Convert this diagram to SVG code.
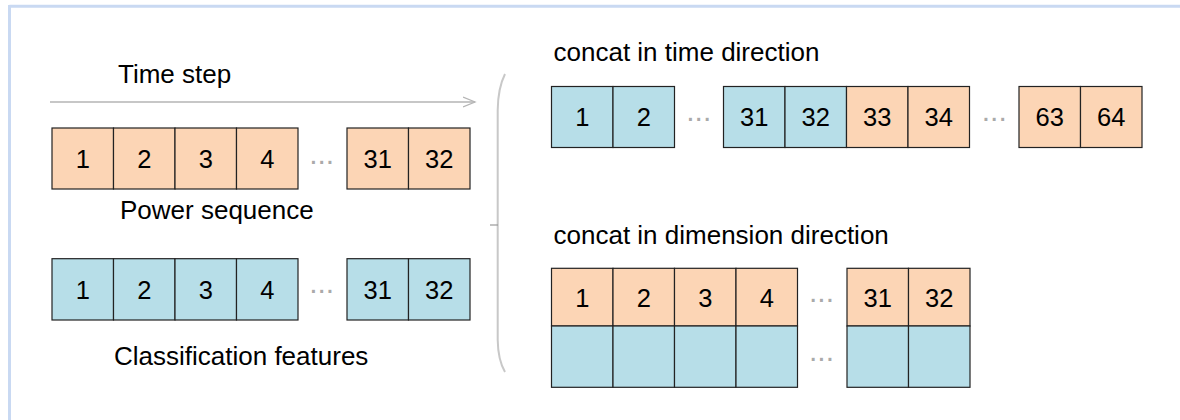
<svg xmlns="http://www.w3.org/2000/svg" width="1180" height="420" viewBox="0 0 1180 420">
<style>
text{font-family:"Liberation Sans",Arial,sans-serif;fill:#000}
.lbl{font-size:26px}
.num{font-size:25.5px;text-anchor:middle}
.dots{font-size:30px;fill:#aaa;text-anchor:middle}
.o{fill:#fcd5b5;stroke:#222;stroke-width:1.2}
.b{fill:#b7dee8;stroke:#222;stroke-width:1.2}
</style>
<defs>
<marker id="arr" markerWidth="14" markerHeight="12" refX="12" refY="6" orient="auto" markerUnits="userSpaceOnUse">
<path d="M0,1 L12,6 L0,11" fill="none" stroke="#b5b5b5" stroke-width="1.3"/>
</marker>
</defs>
<rect width="1180" height="420" fill="#fff"/>
<g id="frame">
<line x1="9.5" y1="6.3" x2="1180" y2="6.3" stroke="#c9d9f2" stroke-width="3"/>
<line x1="9.5" y1="5" x2="9.5" y2="420" stroke="#c9d9f2" stroke-width="3"/>
</g>
<g id="connectors">
<line x1="50" y1="102" x2="475" y2="102" stroke="#b5b5b5" stroke-width="1.3" marker-end="url(#arr)"/>
<path d="M505,74 Q498,88 497.7,110 L497.7,340 Q498,360 505,372" fill="none" stroke="#c8c8c8" stroke-width="2"/>
<line x1="490" y1="225" x2="498" y2="225" stroke="#999" stroke-width="1.2"/>
</g>
<g id="time-step-label"><text class="lbl" x="118" y="83">Time step</text></g>
<g id="power-sequence">
<rect class="o" x="52" y="128" width="61.5" height="61"/>
<rect class="o" x="113.5" y="128" width="61.5" height="61"/>
<rect class="o" x="175" y="128" width="61.5" height="61"/>
<rect class="o" x="236.5" y="128" width="61.5" height="61"/>
<rect class="o" x="347" y="128" width="61.5" height="61"/>
<rect class="o" x="408.5" y="128" width="61.5" height="61"/>
<text class="num" x="82.75" y="167.5">1</text>
<text class="num" x="144.25" y="167.5">2</text>
<text class="num" x="205.75" y="167.5">3</text>
<text class="num" x="267.25" y="167.5">4</text>
<text class="dots" x="321.7" y="163.5">...</text>
<text class="num" x="377.75" y="167.5">31</text>
<text class="num" x="439.25" y="167.5">32</text>
<text class="lbl" x="120" y="219">Power sequence</text>
</g>
<g id="classification-features">
<rect class="b" x="52" y="258.7" width="61.5" height="61.3"/>
<rect class="b" x="113.5" y="258.7" width="61.5" height="61.3"/>
<rect class="b" x="175" y="258.7" width="61.5" height="61.3"/>
<rect class="b" x="236.5" y="258.7" width="61.5" height="61.3"/>
<rect class="b" x="347" y="258.7" width="61.5" height="61.3"/>
<rect class="b" x="408.5" y="258.7" width="61.5" height="61.3"/>
<text class="num" x="82.75" y="298.5">1</text>
<text class="num" x="144.25" y="298.5">2</text>
<text class="num" x="205.75" y="298.5">3</text>
<text class="num" x="267.25" y="298.5">4</text>
<text class="dots" x="321.7" y="292.5">...</text>
<text class="num" x="377.75" y="298.5">31</text>
<text class="num" x="439.25" y="298.5">32</text>
<text class="lbl" x="114" y="365">Classification features</text>
</g>
<g id="concat-time">
<text class="lbl" x="553.5" y="61">concat in time direction</text>
<rect class="b" x="551.5" y="86.5" width="61.5" height="61"/>
<rect class="b" x="613" y="86.5" width="61.5" height="61"/>
<rect class="b" x="723.5" y="86.5" width="61.5" height="61"/>
<rect class="b" x="785" y="86.5" width="61.5" height="61"/>
<rect class="o" x="846.5" y="86.5" width="61.5" height="61"/>
<rect class="o" x="908" y="86.5" width="61.5" height="61"/>
<rect class="o" x="1019" y="86.5" width="61.5" height="61"/>
<rect class="o" x="1080.5" y="86.5" width="61.5" height="61"/>
<text class="num" x="582.25" y="126">1</text>
<text class="num" x="643.75" y="126">2</text>
<text class="dots" x="698.8" y="121">...</text>
<text class="num" x="754.25" y="126">31</text>
<text class="num" x="815.75" y="126">32</text>
<text class="num" x="877.25" y="126">33</text>
<text class="num" x="938.75" y="126">34</text>
<text class="dots" x="994.3" y="121">...</text>
<text class="num" x="1049.75" y="126">63</text>
<text class="num" x="1111.25" y="126">64</text>
</g>
<g id="concat-dimension">
<text class="lbl" x="553.5" y="244">concat in dimension direction</text>
<rect class="o" x="551.5" y="268.3" width="61.5" height="57.7"/>
<rect class="o" x="613" y="268.3" width="61.5" height="57.7"/>
<rect class="o" x="674.5" y="268.3" width="61.5" height="57.7"/>
<rect class="o" x="736" y="268.3" width="61.5" height="57.7"/>
<rect class="o" x="847" y="268.3" width="61.5" height="57.7"/>
<rect class="o" x="908.5" y="268.3" width="61.5" height="57.7"/>
<rect class="b" x="551.5" y="326" width="61.5" height="61.3"/>
<rect class="b" x="613" y="326" width="61.5" height="61.3"/>
<rect class="b" x="674.5" y="326" width="61.5" height="61.3"/>
<rect class="b" x="736" y="326" width="61.5" height="61.3"/>
<rect class="b" x="847" y="326" width="61.5" height="61.3"/>
<rect class="b" x="908.5" y="326" width="61.5" height="61.3"/>
<text class="num" x="582.25" y="306.5">1</text>
<text class="num" x="643.75" y="306.5">2</text>
<text class="num" x="705.25" y="306.5">3</text>
<text class="num" x="766.75" y="306.5">4</text>
<text class="dots" x="821.5" y="302">...</text>
<text class="num" x="877.75" y="306.5">31</text>
<text class="num" x="939.25" y="306.5">32</text>
<text class="dots" x="821.5" y="361">...</text>
</g>
</svg>
